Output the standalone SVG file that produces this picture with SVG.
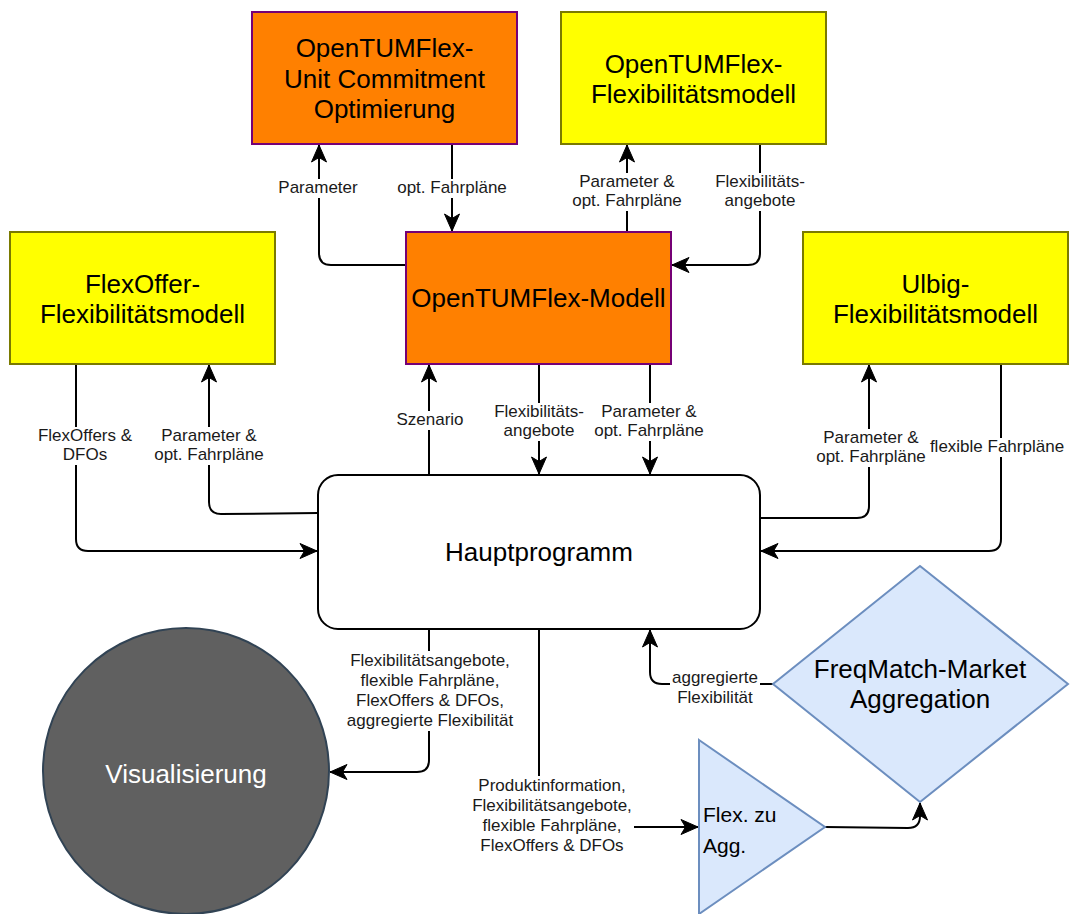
<svg xmlns="http://www.w3.org/2000/svg" width="1070" height="914" viewBox="0 0 1070 914">
<defs>
<style>
.orange{fill:#FF8000;stroke:#750075;stroke-width:2}
.yellow{fill:#FFFF00;stroke:#7a7a00;stroke-width:2}
.blue{fill:#dae8fc;stroke:#6c8ebf;stroke-width:2}
.nt{font-family:"Liberation Sans",Arial,sans-serif;font-size:26px;fill:#000;text-anchor:middle}
.lt{font-family:"Liberation Sans",Arial,sans-serif;font-size:17px;fill:#1a1a1a;text-anchor:middle}
.edge{fill:none;stroke:#000;stroke-width:2;marker-end:url(#arr)}
.bg{fill:#fff}
</style>
<marker id="arr" markerUnits="userSpaceOnUse" markerWidth="20" markerHeight="18" refX="18" refY="9" orient="auto">
<path d="M1,1.5 L18,9 L1,16.5 L5.5,9 z" fill="#000" stroke="#000" stroke-width="1"/>
</marker>
</defs>
<rect width="1070" height="914" fill="#fff"/>

<g id="connectors">
<path class="edge" d="M406,265 L331,265 Q319,265 319,253 L319,145"/>
<path class="edge" d="M452,144 L452,231"/>
<path class="edge" d="M627,232 L627,145"/>
<path class="edge" d="M760,144 L760,253 Q760,265 748,265 L672,265"/>
<path class="edge" d="M429,475 L429,365"/>
<path class="edge" d="M539,364 L539,474"/>
<path class="edge" d="M650,364 L650,474"/>
<path class="edge" d="M76,364 L76,539 Q76,551 88,551 L317,551"/>
<path class="edge" d="M318,513 L221,514 Q209,514 209,502 L209,365"/>
<path class="edge" d="M760,518 L857,518 Q869,518 869,506 L869,365"/>
<path class="edge" d="M1001,364 L1001,539 Q1001,551 989,551 L761,551"/>
<path class="edge" d="M773,684 L662,684 Q650,684 650,672 L650,630"/>
<path class="edge" d="M429,629 L429,760 Q429,772 417,772 L330,772"/>
<path class="edge" d="M539,629 L539,815 Q539,827 551,827 L698,827"/>
<path class="edge" d="M825,827 L908,828 Q920,828 920,816 L920,803"/>

<rect class="bg" x="278" y="179" width="80" height="19"/>
<text class="lt" x="318" y="193">Parameter</text>
<rect class="bg" x="397" y="179" width="110" height="19"/>
<text class="lt" x="452" y="193">opt. Fahrpläne</text>
<rect class="bg" x="572" y="173" width="110" height="38"/>
<text class="lt" x="627" y="187">Parameter &amp;</text>
<text class="lt" x="627" y="206">opt. Fahrpläne</text>
<rect class="bg" x="715" y="173" width="90" height="38"/>
<text class="lt" x="760" y="187">Flexibilitäts-</text>
<text class="lt" x="760" y="206">angebote</text>
<rect class="bg" x="396" y="411" width="68" height="19"/>
<text class="lt" x="430" y="425">Szenario</text>
<rect class="bg" x="494" y="403" width="90" height="38"/>
<text class="lt" x="539" y="417">Flexibilitäts-</text>
<text class="lt" x="539" y="436">angebote</text>
<rect class="bg" x="594" y="403" width="110" height="38"/>
<text class="lt" x="649" y="417">Parameter &amp;</text>
<text class="lt" x="649" y="436">opt. Fahrpläne</text>
<rect class="bg" x="38" y="427" width="94" height="38"/>
<text class="lt" x="85" y="441">FlexOffers &amp;</text>
<text class="lt" x="85" y="460">DFOs</text>
<rect class="bg" x="154" y="427" width="110" height="38"/>
<text class="lt" x="209" y="441">Parameter &amp;</text>
<text class="lt" x="209" y="460">opt. Fahrpläne</text>
<rect class="bg" x="816" y="429" width="110" height="38"/>
<text class="lt" x="871" y="443">Parameter &amp;</text>
<text class="lt" x="871" y="462">opt. Fahrpläne</text>
<rect class="bg" x="930" y="438" width="134" height="19"/>
<text class="lt" x="997" y="452">flexible Fahrpläne</text>
<rect class="bg" x="670" y="669" width="90" height="38"/>
<text class="lt" x="715" y="683">aggregierte</text>
<text class="lt" x="715" y="703">Flexibilität</text>
<rect class="bg" x="345" y="651" width="172" height="80"/>
<text class="lt" x="430" y="666">Flexibilitätsangebote,</text>
<text class="lt" x="430" y="686">flexible Fahrpläne,</text>
<text class="lt" x="430" y="706">FlexOffers &amp; DFOs,</text>
<text class="lt" x="430" y="726">aggregierte Flexibilität</text>
<rect class="bg" x="470" y="776" width="164" height="80"/>
<text class="lt" x="552" y="791">Produktinformation,</text>
<text class="lt" x="552" y="811">Flexibilitätsangebote,</text>
<text class="lt" x="552" y="831">flexible Fahrpläne,</text>
<text class="lt" x="552" y="851">FlexOffers &amp; DFOs</text>
</g>

<g id="uc">
<rect class="orange" x="252" y="12" width="265" height="132"/>
<text class="nt" x="384.5" y="57">OpenTUMFlex-</text>
<text class="nt" x="384.5" y="87.5">Unit Commitment</text>
<text class="nt" x="384.5" y="118">Optimierung</text>
</g>
<g id="otf-flexmodell">
<rect class="yellow" x="561" y="12" width="265" height="132"/>
<text class="nt" x="693.5" y="73">OpenTUMFlex-</text>
<text class="nt" x="693.5" y="103">Flexibilitätsmodell</text>
</g>
<g id="flexoffer">
<rect class="yellow" x="10" y="232" width="265" height="132"/>
<text class="nt" x="142.5" y="293">FlexOffer-</text>
<text class="nt" x="142.5" y="323">Flexibilitätsmodell</text>
</g>
<g id="otf-modell">
<rect class="orange" x="406" y="232" width="265" height="132"/>
<text class="nt" x="538.5" y="307">OpenTUMFlex-Modell</text>
</g>
<g id="ulbig">
<rect class="yellow" x="803" y="232" width="265" height="132"/>
<text class="nt" x="935.5" y="293">Ulbig-</text>
<text class="nt" x="935.5" y="323">Flexibilitätsmodell</text>
</g>
<g id="haupt">
<rect x="318" y="475" width="442" height="154" rx="20" ry="20" fill="#fff" stroke="#000" stroke-width="2"/>
<text class="nt" x="539" y="561">Hauptprogramm</text>
</g>
<g id="vis">
<circle cx="186" cy="771" r="143" fill="#606060" stroke="#314354" stroke-width="2"/>
<text class="nt" x="186" y="783" style="fill:#fff">Visualisierung</text>
</g>
<g id="freqmatch">
<polygon class="blue" points="920,566 1068,684 920,802 773,684"/>
<text class="nt" x="920" y="678">FreqMatch-Market</text>
<text class="nt" x="920" y="708">Aggregation</text>
</g>
<g id="flexagg">
<polygon class="blue" points="699,740 825,827 699,914"/>
<text class="nt" x="703" y="822" style="font-size:21px;text-anchor:start">Flex. zu</text>
<text class="nt" x="703" y="853" style="font-size:21px;text-anchor:start">Agg.</text>
</g>
</svg>
